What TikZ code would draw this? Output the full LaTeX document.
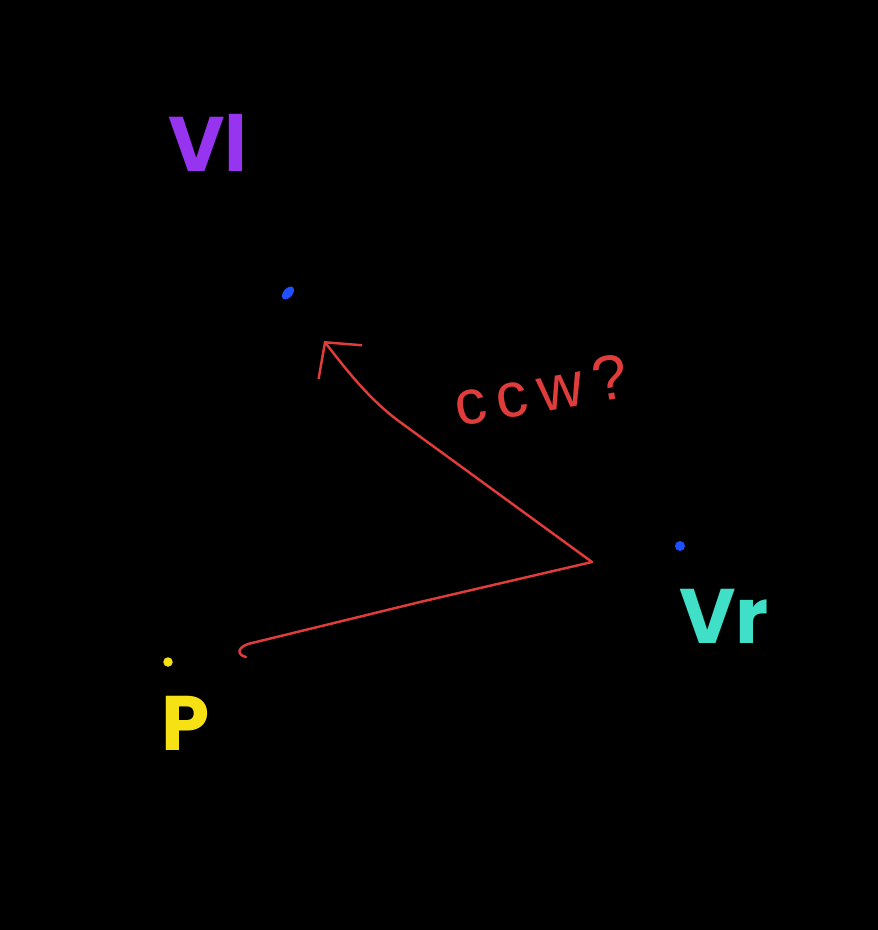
\documentclass[tikz,border=0pt]{standalone}
\usepackage{fontspec}
\usetikzlibrary{arrows.meta,shapes.geometric}
\newfontfamily\handfont{Poppins}
\newfontfamily\thinfont{Liberation Sans}
\definecolor{vlpurple}{RGB}{150,52,240}
\definecolor{vrteal}{RGB}{64,224,200}
\definecolor{pyellow}{RGB}{245,225,20}
\definecolor{dotblue}{RGB}{30,80,255}
\definecolor{penred}{RGB}{225,60,60}

\begin{document}
\begin{tikzpicture}[x=0.02cm, y=-0.02cm,
  dot/.style={circle, inner sep=0pt, minimum size=0.2cm},
  lbl/.style={font=\handfont\bfseries\fontsize{44}{46}\selectfont, inner sep=0pt},
  pen/.style={penred, line width=1.4pt, line cap=round, line join=round},
  arr/.style={pen, -{Straight Barb[length=5mm, width=11mm, line width=1.4pt]}}]
\useasboundingbox[fill=black] (0,0) rectangle (878,930);
% points
\node[fill=dotblue, rotate=50, ellipse, inner sep=0pt, minimum width=0.3cm, minimum height=0.18cm] (vl) at (288,293) {};
\node[dot, fill=dotblue] (vr) at (680,546) {};
\node[dot, fill=pyellow, minimum size=0.19cm] (p) at (168,662) {};
% labels
\node[lbl, vlpurple] (vllbl) at (208,143) {Vl};
\node[lbl, vrteal] (vrlbl) at (724,616) {Vr};
\node[lbl, pyellow] (plbl) at (186,723) {P};
\node[font=\thinfont\fontsize{36}{38}\selectfont, penred, rotate=10] (ccw) at (541,390) {c\,c\,w\,?};
% red stroke
\coordinate (start) at (246,657);
\coordinate (turn) at (592,562);
\coordinate (tip) at (324,341);
\draw[pen] (start) .. controls (236,655) and (237,646) .. (252,643)
  -- (420,602) -- (turn);
\draw[arr] (turn) -- (400,422) .. controls (370,400) and (348,372) .. (tip);
\end{tikzpicture}
\end{document}
